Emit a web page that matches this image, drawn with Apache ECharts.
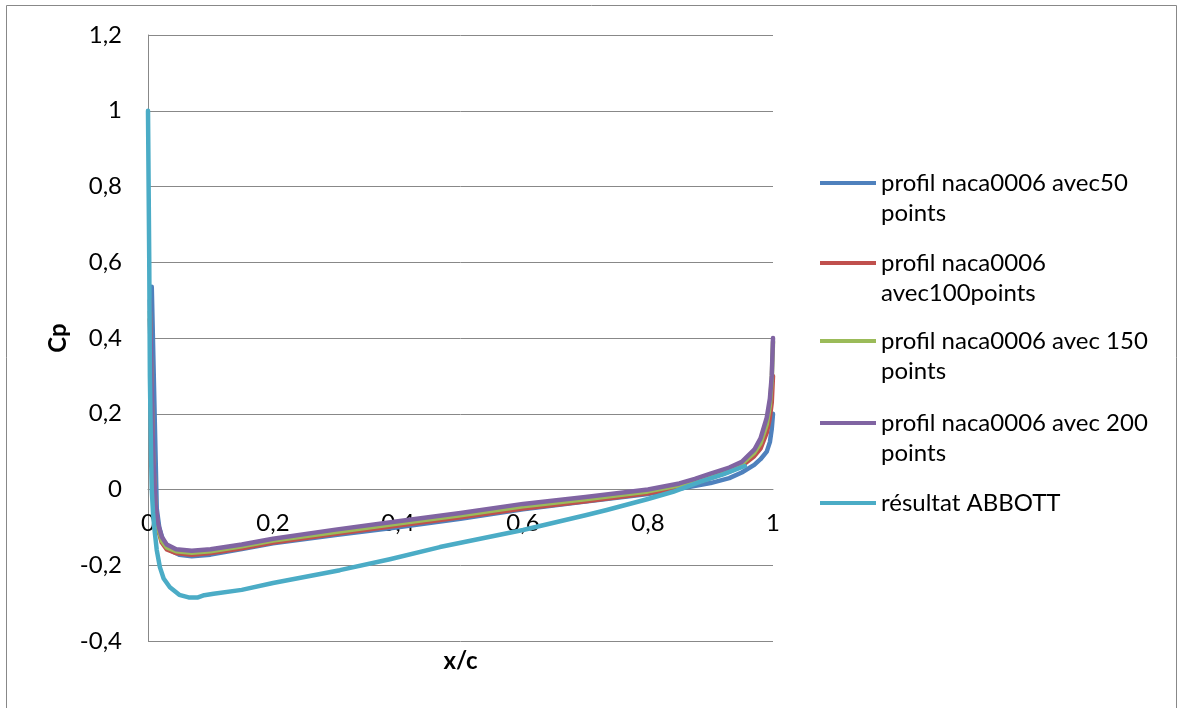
<!DOCTYPE html>
<html>
<head>
<meta charset="utf-8">
<script src="https://cdn.jsdelivr.net/npm/echarts@6/dist/echarts.min.js"></script>
<style>
html,body{margin:0;padding:0;background:#fff;}
#c{width:1179px;height:708px;}
</style>
</head>
<body>
<div id="c"></div>
<script>
const seriesNames = [
  'profil naca0006 avec50\npoints',
  'profil naca0006\navec100points',
  'profil naca0006 avec 150\npoints',
  'profil naca0006 avec 200\npoints',
  'résultat ABBOTT'
];
const xTicks = ['0', '0,2', '0,4', '0,6', '0,8', '1'];
const yTicks = ['-0,4', '-0,2', '0', '0,2', '0,4', '0,6', '0,8', '1', '1,2'];

const x50 = [0.006, 0.014, 0.018, 0.025, 0.035, 0.05, 0.07, 0.1, 0.15, 0.2, 0.3, 0.4, 0.5, 0.6, 0.7, 0.8, 0.85, 0.9, 0.93, 0.95, 0.97, 0.98, 0.99, 0.995, 0.998, 1.0];
const cp50 = [0.535, -0.05, -0.1, -0.14, -0.16, -0.172, -0.176, -0.172, -0.157, -0.142, -0.12, -0.1, -0.077, -0.052, -0.032, -0.012, 0.002, 0.017, 0.03, 0.045, 0.065, 0.08, 0.1, 0.125, 0.16, 0.2];

const xFine = [0.003, 0.008, 0.012, 0.016, 0.022, 0.03, 0.045, 0.07, 0.1, 0.15, 0.2, 0.3, 0.4, 0.5, 0.6, 0.7, 0.8, 0.85, 0.875, 0.9, 0.93, 0.95, 0.97, 0.98, 0.99, 0.995, 0.998, 1.0];
const cp100 = [0.45, 0.08, -0.055, -0.105, -0.14, -0.158, -0.168, -0.172, -0.168, -0.155, -0.14, -0.117, -0.095, -0.073, -0.05, -0.031, -0.01, 0.006, 0.017, 0.03, 0.047, 0.062, 0.088, 0.108, 0.15, 0.19, 0.23, 0.3];
const cp150 = [0.47, 0.09, -0.05, -0.1, -0.135, -0.153, -0.163, -0.167, -0.163, -0.15, -0.135, -0.112, -0.09, -0.068, -0.044, -0.026, -0.005, 0.011, 0.022, 0.036, 0.053, 0.068, 0.097, 0.122, 0.172, 0.222, 0.29, 0.39];
const cp200 = [0.5, 0.1, -0.04, -0.09, -0.125, -0.145, -0.158, -0.162, -0.158, -0.145, -0.13, -0.106, -0.084, -0.062, -0.038, -0.02, 0.0, 0.016, 0.028, 0.042, 0.058, 0.073, 0.105, 0.135, 0.19, 0.24, 0.3, 0.4];

const xAbbott = [0, 0.002, 0.003, 0.005, 0.006, 0.008, 0.01, 0.014, 0.019, 0.025, 0.035, 0.05, 0.065, 0.08, 0.09, 0.105, 0.15, 0.2, 0.307, 0.387, 0.467, 0.6, 0.7, 0.734, 0.8, 0.84, 0.883, 0.92, 0.955];
const cpAbbott = [1.0, 0.6, 0.3, 0.08, 0.0, -0.06, -0.1, -0.16, -0.205, -0.235, -0.258, -0.278, -0.285, -0.285, -0.279, -0.275, -0.265, -0.247, -0.213, -0.184, -0.152, -0.107, -0.068, -0.054, -0.025, -0.006, 0.02, 0.04, 0.062];

const colors = ['#4F81BD', '#C0504D', '#9BBB59', '#8064A2', '#4BACC6'];
const pair = (xs, ys) => xs.map((x, i) => [x, ys[i]]);
const seriesData = [pair(x50, cp50), pair(xFine, cp100), pair(xFine, cp150), pair(xFine, cp200), pair(xAbbott, cpAbbott)];

const fmtX = v => { const i = Math.round(v / 0.2); return xTicks[i] !== undefined ? xTicks[i] : ''; };
const fmtY = v => { const i = Math.round((v + 0.4) / 0.2); return yTicks[i] !== undefined ? yTicks[i] : ''; };

const gray = '#888888';
const font = 'Lato, "Open Sans", sans-serif';
const FS = 24;

// legend icons: bar at top (two-line entries) or middle (one-line entry)
const iconTop = 'path://M0,0h56v4h-56zM0,33.9h0.01v0.1h-0.01z';
const iconMid = 'path://M0,0h0.01v0.1h-0.01zM0,15h56v4h-56zM0,33.9h0.01v0.1h-0.01z';
const legendTops = [168, 248, 326, 408, 486];

const chart = echarts.init(document.getElementById('c'), null, {renderer: 'canvas'});
chart.setOption({
  animation: false,
  color: colors,
  textStyle: {fontFamily: font},
  graphic: [{
    type: 'rect', shape: {x: 6.5, y: 5.5, width: 1170, height: 720},
    style: {fill: 'none', stroke: gray, lineWidth: 1}, silent: true, z: -1
  }],
  grid: {left: 148, top: 35, width: 625, height: 606, containLabel: false, outerBoundsMode: 'none'},
  xAxis: {
    type: 'value', min: 0, max: 1, interval: 0.2,
    position: 'bottom', offset: -151.5,
    axisLine: {show: true, onZero: false, lineStyle: {color: gray, width: 1}},
    axisTick: {show: false},
    splitLine: {show: false},
    axisLabel: {formatter: fmtX, fontSize: FS, color: '#000', fontFamily: font, margin: 22},
    name: 'x/c', nameLocation: 'middle', nameGap: 160, nameMoveOverlap: false,
    nameTextStyle: {fontSize: FS, fontWeight: 'bold', color: '#000', fontFamily: font}
  },
  yAxis: {
    type: 'value', min: -0.4, max: 1.2, interval: 0.2,
    axisLine: {show: true, onZero: false, lineStyle: {color: gray, width: 1}},
    axisTick: {show: false},
    splitLine: {show: true, lineStyle: {color: gray, width: 1}},
    axisLabel: {formatter: fmtY, fontSize: FS, color: '#000', fontFamily: font, margin: 26},
    name: 'Cp', nameLocation: 'middle', nameGap: 78, nameMoveOverlap: false,
    nameTextStyle: {fontSize: FS, fontWeight: 'bold', color: '#000', fontFamily: font}
  },
  legend: seriesNames.map((n, i) => ({
    orient: 'vertical', left: 820, top: legendTops[i], padding: 0,
    itemWidth: 56, itemHeight: 34,
    textStyle: {fontSize: FS, lineHeight: 30, color: '#000', fontFamily: font},
    data: [{name: n, icon: i < 4 ? iconTop : iconMid}]
  })),
  series: seriesNames.map((n, i) => ({
    name: n, type: 'line', data: seriesData[i],
    showSymbol: false, symbol: 'none', smooth: false,
    lineStyle: {width: 4.5, color: colors[i], cap: 'round', join: 'round'},
    itemStyle: {color: colors[i]}
  }))
});
</script>
</body>
</html>
